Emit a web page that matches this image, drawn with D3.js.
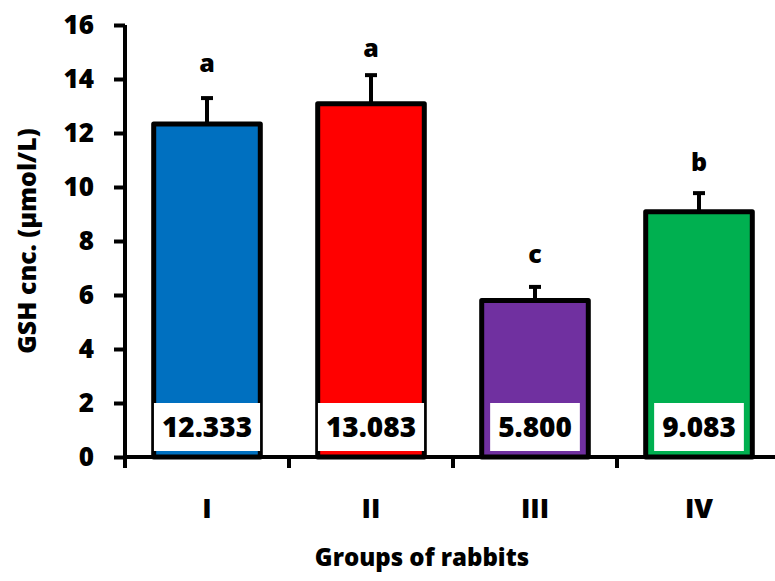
<!DOCTYPE html>
<html>
<head>
  <meta charset="utf-8">
  <title>GSH concentration</title>
  <script src="https://d3js.org/d3.v7.min.js"></script>
  <style>
    body { margin: 0; background: #fff; }
    text { font-family: "Open Sans", sans-serif; font-weight: 800; fill: #000; }
  </style>
</head>
<body>
<svg width="775" height="581"></svg>
<script>
  // data
  let groups = ["I", "II", "III", "IV"];
  let means = [12.333, 13.083, 5.800, 9.083];
  let errors = [0.96, 1.06, 0.50, 0.69];
  let letters = ["a", "a", "c", "b"];
  let letterPos = [14.26, 14.81, 7.19, 10.59];
  let colors = ["#0070C0", "#FF0000", "#7030A0", "#00B050"];
  let yTicks = [0, 2, 4, 6, 8, 10, 12, 14, 16];

  let svg = d3.select("svg");

  let xScale = d3.scaleBand()
          .domain(groups)
          .range([125, 781])
          .paddingInner(0.35)
          .paddingOuter(0.175);

  let yScale = d3.scaleLinear()
          .domain([0, 16])
          .range([457, 25]);

  let data = groups.map(function (g, i) {
    return {group: g, mean: means[i], err: errors[i], letter: letters[i], lpos: letterPos[i], color: colors[i]};
  });

  // bars
  svg.append("g").selectAll("rect")
          .data(data)
          .enter()
          .append("rect")
          .attr("x", d => xScale(d.group))
          .attr("y", d => yScale(d.mean))
          .attr("width", xScale.bandwidth())
          .attr("height", d => yScale(0) - yScale(d.mean))
          .attr("fill", d => d.color)
          .attr("stroke", "#000")
          .attr("stroke-width", 5)
          .attr("stroke-linejoin", "round");

  // error bars (upper only)
  let eb = svg.append("g").selectAll("g")
          .data(data)
          .enter()
          .append("g");
  eb.append("line")
          .attr("x1", d => xScale(d.group) + xScale.bandwidth() / 2)
          .attr("x2", d => xScale(d.group) + xScale.bandwidth() / 2)
          .attr("y1", d => yScale(d.mean))
          .attr("y2", d => yScale(d.mean + d.err))
          .attr("stroke", "#000")
          .attr("stroke-width", 4);
  eb.append("line")
          .attr("x1", d => xScale(d.group) + xScale.bandwidth() / 2 - 6)
          .attr("x2", d => xScale(d.group) + xScale.bandwidth() / 2 + 6)
          .attr("y1", d => yScale(d.mean + d.err))
          .attr("y2", d => yScale(d.mean + d.err))
          .attr("stroke", "#000")
          .attr("stroke-width", 4);

  // significance letters
  svg.append("g").selectAll("text")
          .data(data)
          .enter()
          .append("text")
          .attr("x", d => xScale(d.group) + xScale.bandwidth() / 2)
          .attr("y", d => yScale(d.lpos))
          .attr("text-anchor", "middle")
          .style("font-size", "25px")
          .text(d => d.letter);

  // value labels in white boxes
  let vl = svg.append("g").selectAll("g")
          .data(data)
          .enter()
          .append("g");
  let vbox = vl.append("rect").attr("fill", "#fff");
  let vtext = vl.append("text")
          .attr("x", d => xScale(d.group) + xScale.bandwidth() / 2)
          .attr("y", 437)
          .attr("text-anchor", "middle")
          .style("font-size", "28px")
          .text(d => d3.format(".3f")(d.mean));
  vtext.each(function (d, i) {
    let bb = this.getBBox();
    d3.select(vbox.nodes()[i])
            .attr("x", bb.x - 8)
            .attr("y", 403)
            .attr("width", bb.width + 16)
            .attr("height", 48);
  });

  // y axis
  let yAxis = svg.append("g")
          .attr("transform", "translate(125,0)")
          .call(d3.axisLeft(yScale).tickValues(yTicks).tickSize(11).tickPadding(20));
  yAxis.select(".domain").attr("stroke-width", 4).attr("d", "M0,25V457");
  yAxis.selectAll(".tick line").attr("stroke-width", 4);
  yAxis.selectAll(".tick text").style("font-size", "26px").attr("font-family", null);

  // x axis
  let xAxis = svg.append("g")
          .attr("transform", "translate(0,457)");
  xAxis.append("line")
          .attr("x1", 123).attr("x2", 781)
          .attr("stroke", "#000").attr("stroke-width", 4);
  let bounds = groups.map(g => xScale(g) - xScale.step() * xScale.paddingInner() / 2).concat([781]);
  xAxis.selectAll(".xt")
          .data(bounds)
          .enter()
          .append("line")
          .attr("x1", d => d).attr("x2", d => d)
          .attr("y1", 0).attr("y2", 11)
          .attr("stroke", "#000").attr("stroke-width", 4);
  xAxis.selectAll(".xl")
          .data(groups)
          .enter()
          .append("text")
          .attr("x", d => xScale(d) + xScale.bandwidth() / 2)
          .attr("y", 61)
          .attr("text-anchor", "middle")
          .style("font-size", "27px")
          .text(d => d);

  // axis titles
  svg.append("text")
          .attr("transform", "translate(36,241) rotate(-90)")
          .attr("text-anchor", "middle")
          .style("font-size", "25px")
          .text("GSH cnc. (µmol/L)");
  svg.append("text")
          .attr("x", 422)
          .attr("y", 566)
          .attr("text-anchor", "middle")
          .style("font-size", "24px")
          .text("Groups of rabbits");
</script>
</body>
</html>
